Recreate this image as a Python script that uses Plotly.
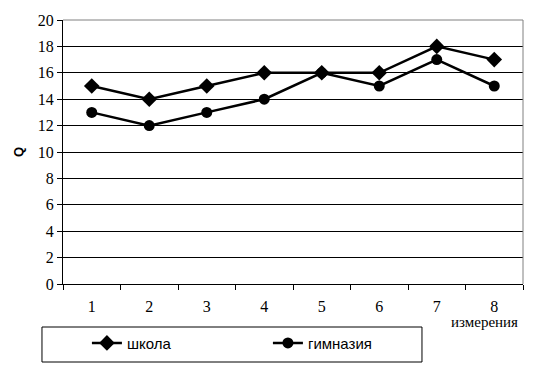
import plotly.graph_objects as go

categories = ["1", "2", "3", "4", "5", "6", "7", "8"]
shkola = [15, 14, 15, 16, 16, 16, 18, 17]
gimnaziya = [13, 12, 13, 14, 16, 15, 17, 15]
y_ticks = list(range(0, 21, 2))

fig = go.Figure()
fig.add_trace(go.Scatter(
    x=categories, y=shkola, name="школа", mode="lines+markers",
    line=dict(color="black", width=2.5),
    marker=dict(symbol="diamond", size=12, color="black"),
))
fig.add_trace(go.Scatter(
    x=categories, y=gimnaziya, name="гимназия", mode="lines+markers",
    line=dict(color="black", width=2.5),
    marker=dict(symbol="circle", size=11, color="black"),
))

fig.update_layout(
    width=539, height=367,
    margin=dict(l=63, r=16, t=20, b=83, autoexpand=False),
    paper_bgcolor="white", plot_bgcolor="white",
    font=dict(family="Liberation Serif", size=16, color="black"),
    showlegend=True,
    legend=dict(
        orientation="h", x=0.052, y=-0.224, xanchor="left", yanchor="middle",
        font=dict(family="Liberation Sans", size=15, color="black"),
        bgcolor="rgba(0,0,0,0)", borderwidth=0,
        entrywidth=136, entrywidthmode="pixels",
    ),
    xaxis=dict(
        type="category", range=[-0.5, 7.5], tickson="boundaries",
        ticks="outside", ticklen=5, tickcolor="black",
        showline=True, linecolor="black", linewidth=1,
        showgrid=False, zeroline=False, ticklabelstandoff=8,
        tickfont=dict(family="Liberation Serif", size=16),
    ),
    yaxis=dict(
        range=[0, 20], tickvals=y_ticks,
        ticks="outside", ticklen=5, tickcolor="black",
        showline=True, linecolor="black", linewidth=1,
        showgrid=True, gridcolor="black", gridwidth=1, zeroline=False,
        tickfont=dict(family="Liberation Serif", size=16),
    ),
    shapes=[
        dict(type="line", xref="paper", yref="paper", x0=0, x1=1, y0=1, y1=1,
             line=dict(color="#808080", width=1)),
        dict(type="line", xref="paper", yref="paper", x0=1, x1=1, y0=0, y1=1,
             line=dict(color="#808080", width=1)),
        dict(type="rect", xref="paper", yref="paper",
             x0=-0.0457, x1=0.7804, y0=-0.1629, y1=-0.2955,
             line=dict(color="black", width=1)),
    ],
    annotations=[
        dict(text="измерения", xref="paper", yref="paper", x=0.917, y=-0.144,
             xanchor="center", yanchor="middle",
             showarrow=False, font=dict(family="Liberation Serif", size=15)),
        dict(text="<b>Q</b>", xref="paper", yref="paper", x=-0.0978, y=0.5,
             xanchor="center", yanchor="middle",
             textangle=-90, showarrow=False,
             font=dict(family="Liberation Sans", size=13)),
    ],
)

fig.write_html("out.html", config={"displayModeBar": False},
               post_script="document.body.style.margin='0';document.body.style.padding='0';")
